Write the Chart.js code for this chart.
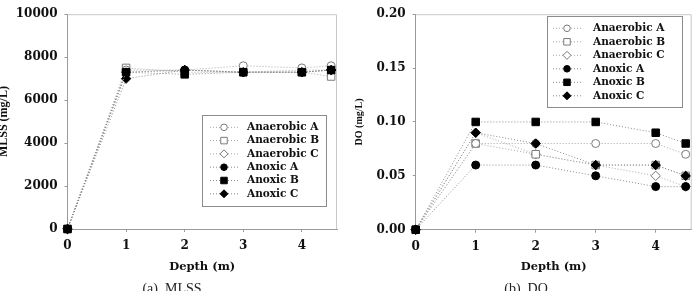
<!DOCTYPE html>
<html>
<head>
<meta charset="utf-8">
<script src="https://cdn.jsdelivr.net/npm/chart.js@4/dist/chart.umd.min.js"></script>
<style>
  html, body { margin: 0; padding: 0; background: #fff; }
  #wrap { position: relative; width: 698px; height: 291px; overflow: hidden; background: #fff; }
  .panel { position: absolute; top: 0; width: 349px; height: 291px; }
  .cap { position: absolute; top: 282px; width: 100px; text-align: center; white-space: pre;
         font: 14px/14px "Liberation Serif", serif; color: #222; }
</style>
</head>
<body>
<div id="wrap">
  <div class="panel" style="left:0"><canvas id="mlss" width="349" height="291"></canvas></div>
  <div class="panel" style="left:349px"><canvas id="do" width="349" height="291"></canvas></div>
  <div class="cap" style="left:122px">(a)  MLSS</div>
  <div class="cap" style="left:476px">(b)  DO</div>
</div>
<script>
// Données
const depths = [0, 1, 2, 3, 4, 4.5];
const seriesNames = ["Anaerobic A", "Anaerobic B", "Anaerobic C", "Anoxic A", "Anoxic B", "Anoxic C"];

// MLSS (mg/L)
const mlssAnaerobicA = [0, 7400, 7400, 7600, 7500, 7600];
const mlssAnaerobicB = [0, 7500, 7300, 7300, 7300, 7100];
const mlssAnaerobicC = [0, 7300, 7400, 7300, 7400, 7400];
const mlssAnoxicA = [0, 7300, 7400, 7300, 7300, 7400];
const mlssAnoxicB = [0, 7300, 7200, 7300, 7300, 7400];
const mlssAnoxicC = [0, 7000, 7400, 7300, 7300, 7400];

// DO (mg/L)
const doAnaerobicA = [0, 0.08, 0.08, 0.08, 0.08, 0.07];
const doAnaerobicB = [0, 0.08, 0.07, 0.06, 0.06, 0.05];
const doAnaerobicC = [0, 0.09, 0.07, 0.06, 0.05, 0.04];
const doAnoxicA = [0, 0.06, 0.06, 0.05, 0.04, 0.04];
const doAnoxicB = [0, 0.10, 0.10, 0.10, 0.09, 0.08];
const doAnoxicC = [0, 0.09, 0.08, 0.06, 0.06, 0.05];

// Graduations
const xTicks = [0, 1, 2, 3, 4];
const mlssTicks = [0, 2000, 4000, 6000, 8000, 10000];
const doTicks = [0, 0.05, 0.10, 0.15, 0.20];

const FONT = '"DejaVu Serif", serif';
const AXIS_COLOR = "#9a9a9a";

// Style des marqueurs : vides (anaérobie) puis pleins (anoxie)
const markerStyles = ["circle", "rect", "rectRot", "circle", "rect", "rectRot"];
const markerRadius = { circle: 4, rect: 5.3, rectRot: 4.7 };

function buildDatasets(seriesList) {
  return seriesList.map((values, i) => {
    const filled = i >= 3;
    return {
      label: seriesNames[i],
      data: values.map((v, k) => ({ x: depths[k], y: v })),
      borderColor: filled ? "#8a8a8a" : "#a8a8a8",
      borderWidth: 1,
      borderDash: [1, 2],
      pointStyle: markerStyles[i],
      pointRadius: markerRadius[markerStyles[i]],
      pointBorderWidth: 1,
      pointBackgroundColor: filled ? "#000" : "#fff",
      pointBorderColor: filled ? "#000" : "#7a7a7a",
      order: filled ? 1 : 2,
      clip: false,
      tension: 0,
    };
  });
}

// Légende encadrée dessinée dans la zone du graphique
const boxLegend = {
  id: "boxLegend",
  afterDraw(chart, args, opts) {
    const ctx = chart.ctx;
    ctx.save();
    ctx.fillStyle = "#fff";
    ctx.fillRect(opts.x, opts.y, opts.w, opts.h);
    ctx.strokeStyle = "#8c8c8c";
    ctx.lineWidth = 1;
    ctx.strokeRect(opts.x + 0.5, opts.y + 0.5, opts.w, opts.h);
    chart.data.datasets.forEach((ds, i) => {
      const cy = opts.y + opts.firstRow + i * opts.rowH;
      ctx.setLineDash([1, 2]);
      ctx.strokeStyle = ds.borderColor;
      ctx.beginPath();
      ctx.moveTo(opts.lineX0, cy);
      ctx.lineTo(opts.lineX1, cy);
      ctx.stroke();
      ctx.setLineDash([]);
      ctx.fillStyle = ds.pointBackgroundColor;
      ctx.strokeStyle = ds.pointBorderColor;
      Chart.helpers.drawPoint(ctx, {
        pointStyle: ds.pointStyle,
        rotation: 0,
        radius: ds.pointRadius - 0.7,
        borderWidth: 1,
      }, (opts.lineX0 + opts.lineX1) / 2, cy);
      ctx.fillStyle = "#111";
      ctx.font = "bold 10.5px " + FONT;
      ctx.textBaseline = "middle";
      ctx.textAlign = "left";
      ctx.fillText(ds.label, opts.textX, cy);
    });
    ctx.restore();
  },
};

// Cadre clair en haut et à droite de la zone de tracé
const plotFrame = {
  id: "plotFrame",
  beforeDatasetsDraw(chart) {
    const { ctx, chartArea: a } = chart;
    ctx.save();
    ctx.strokeStyle = "#c8c8c8";
    ctx.lineWidth = 1;
    ctx.beginPath();
    ctx.moveTo(a.left, a.top + 0.5);
    ctx.lineTo(a.right - 0.5, a.top + 0.5);
    ctx.lineTo(a.right - 0.5, a.bottom);
    ctx.stroke();
    ctx.restore();
  },
};

function makeChart(canvasId, seriesList, yTicks, yMax, yTitle, cfg) {
  const ctx = document.getElementById(canvasId).getContext("2d");
  return new Chart(ctx, {
    type: "line",
    data: { datasets: buildDatasets(seriesList) },
    plugins: [plotFrame, boxLegend],
    options: {
      responsive: false,
      devicePixelRatio: 1,
      animation: false,
      layout: { padding: { left: 0, top: 7, right: cfg.padRight, bottom: 0 } },
      plugins: {
        legend: { display: false },
        tooltip: { enabled: false },
        boxLegend: cfg.legend,
      },
      scales: {
        x: {
          type: "linear",
          min: 0,
          max: 4.6,
          afterBuildTicks: (scale) => { scale.ticks = xTicks.map((v) => ({ value: v })); },
          afterFit: (scale) => { scale.height = cfg.xHeight; },
          ticks: {
            color: "#111",
            padding: 7,
            font: { family: FONT, weight: "bold", size: 12 },
            callback: (v) => String(v),
          },
          grid: { drawOnChartArea: false, drawTicks: true, tickLength: 3, color: AXIS_COLOR },
          border: { display: true, color: AXIS_COLOR },
          title: {
            display: true,
            text: "Depth (m)",
            color: "#111",
            font: { family: FONT, weight: "bold", size: 11.5 },
            padding: { top: 0, bottom: 17 },
          },
        },
        y: {
          type: "linear",
          min: 0,
          max: yMax,
          afterBuildTicks: (scale) => { scale.ticks = yTicks.map((v) => ({ value: v })); },
          afterFit: (scale) => { scale.width = cfg.yWidth; },
          ticks: {
            color: "#111",
            padding: 7,
            font: { family: FONT, weight: "bold", size: 12 },
            callback: cfg.yFormat,
          },
          grid: { drawOnChartArea: false, drawTicks: true, tickLength: 3, color: AXIS_COLOR },
          border: { display: true, color: AXIS_COLOR },
          title: {
            display: true,
            text: yTitle,
            color: "#111",
            font: { family: '"Liberation Serif", serif', weight: "bold", size: cfg.yTitleSize },
            padding: { top: cfg.yTitlePad, bottom: 0 },
          },
        },
      },
    },
  });
}

function init() {
  makeChart("mlss",
    [mlssAnaerobicA, mlssAnaerobicB, mlssAnaerobicC, mlssAnoxicA, mlssAnoxicB, mlssAnoxicC],
    mlssTicks, 10000, "MLSS (mg/L)", {
      padRight: 12, xHeight: 62, yWidth: 67.5, yTitleSize: 12, yTitlePad: -3,
      yFormat: (v) => String(v),
      legend: { x: 202, y: 115, w: 124, h: 91, firstRow: 12.3, rowH: 13.3, lineX0: 210, lineX1: 238, textX: 247 },
    });

  makeChart("do",
    [doAnaerobicA, doAnaerobicB, doAnaerobicC, doAnoxicA, doAnoxicB, doAnoxicC],
    doTicks, 0.2, "DO (mg/L)", {
      padRight: 4, xHeight: 61.3, yWidth: 66.7, yTitleSize: 10, yTitlePad: 4,
      yFormat: (v) => Number(v).toFixed(2),
      legend: { x: 198, y: 16, w: 135, h: 91, firstRow: 12.3, rowH: 13.5, lineX0: 204, lineX1: 232, textX: 244 },
    });
}

document.addEventListener("DOMContentLoaded", init);
</script>
</body>
</html>
